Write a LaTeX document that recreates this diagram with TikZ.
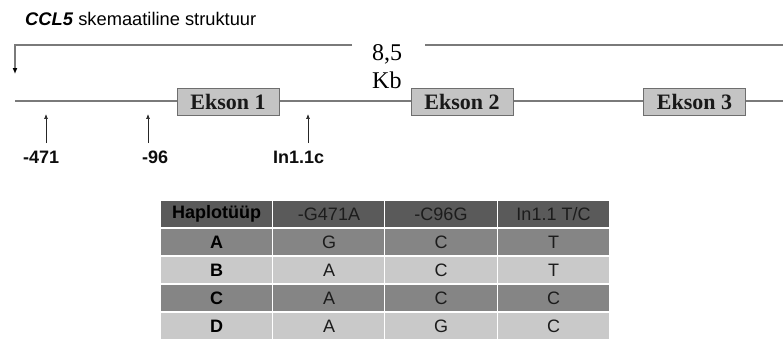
\documentclass[tikz,border=0pt]{standalone}
\usepackage{fontspec}
\setmainfont{Liberation Serif}
\setsansfont{Liberation Sans}
\usetikzlibrary{arrows.meta}
\definecolor{linegray}{HTML}{7A7A7A}
\definecolor{boxfill}{HTML}{C4C4C4}
\definecolor{boxline}{HTML}{6E6E6E}
\definecolor{hdr}{HTML}{5A5A5A}
\definecolor{rowdark}{HTML}{858585}
\definecolor{rowlight}{HTML}{C9C9C9}
\definecolor{celltext}{HTML}{1C1C1C}
\tikzset{
  exon/.style={draw=boxline, fill=boxfill, line width=1pt, minimum width=102bp, minimum height=27bp, inner sep=0pt,
    font=\fontsize{22bp}{24bp}\selectfont\bfseries, text=black!90},
  gene/.style={draw=linegray, line width=1.5pt},
  marker/.style={draw=black!85, line width=0.7pt, -{Latex[length=5pt,width=4pt]}},
  poslabel/.style={font=\sffamily\bfseries\fontsize{18bp}{20bp}\selectfont, text=black!95, anchor=base west, inner sep=0pt},
  cell/.style={draw=white, line width=1.2pt, minimum width=112.5bp, minimum height=28bp, inner sep=0pt,
    font=\sffamily\fontsize{18bp}{20bp}\selectfont, text=celltext},
}
\begin{document}
\begin{tikzpicture}[x=1bp,y=-1bp]
\useasboundingbox (0,0) rectangle (783,338);

% title
\node[anchor=base west, inner sep=0pt, font=\sffamily\fontsize{18.3bp}{20bp}\selectfont] (title) at (25,25)
  {\textbf{\textit{CCL5}} skemaatiline struktuur};

% length bracket
\node[anchor=base west, inner sep=0pt, font=\fontsize{24bp}{26bp}\selectfont] (len1) at (372,60) {8,5};
\node[anchor=base west, inner sep=0pt, font=\fontsize{24bp}{26bp}\selectfont] (len2) at (372,88) {Kb};
\coordinate (bl) at (352,45);
\coordinate (bc) at (15,45);
\coordinate (btip) at (15,74);
\coordinate (br) at (425,45);
\coordinate (bend) at (783,45);
\draw[gene, line width=1.3pt, -{Latex[length=6pt,width=5pt,color=black]}, line join=miter] (bl) -- (bc) -- (btip);
\draw[gene, line width=1.3pt] (br) -- (bend);

% gene
\node[exon] (e1) at (228,101.5) {Ekson 1};
\node[exon] (e2) at (462,101.5) {Ekson 2};
\node[exon] (e3) at (694.5,101.5) {Ekson 3};
\coordinate (gstart) at (15,101);
\coordinate (gend) at (783,101);
\draw[gene] (gstart) -- (e1.west |- gstart);
\draw[gene] (e1.east |- gstart) -- (e2.west |- gstart);
\draw[gene] (e2.east |- gstart) -- (e3.west |- gstart);
\draw[gene] (e3.east |- gstart) -- (gend);

% markers
\node[poslabel] (l471) at (23,163) {-471};
\node[poslabel] (l96) at (142,163) {-96};
\node[poslabel] (lin) at (273,163) {In1.1c};
\coordinate (p471) at (46,114);
\coordinate (p96) at (148,114);
\coordinate (pin) at (308,114);
\draw[marker] (p471 |- 0,143) -- (p471);
\draw[marker] (p96 |- 0,143) -- (p96);
\draw[marker] (pin |- 0,143) -- (pin);

% table
\node[cell, fill=hdr, text=black] (h1) at (216.5,214) {\textbf{Haplotüüp}};
\node[cell, fill=hdr] (h2) at (329,214) {-G471A};
\node[cell, fill=hdr] (h3) at (441,214) {-C96G};
\node[cell, fill=hdr] (h4) at (553.5,214) {In1.1 T/C};

\foreach \r/\y/\c/\a/\b/\d in {A/242/rowdark/G/C/T, B/270/rowlight/A/C/T, C/298/rowdark/A/C/C, D/326/rowlight/A/G/C}{
  \node[cell, fill=\c, text=black] (r\r1) at (216.5,\y) {\textbf{\r}};
  \node[cell, fill=\c] (r\r2) at (329,\y) {\a};
  \node[cell, fill=\c] (r\r3) at (441,\y) {\b};
  \node[cell, fill=\c] (r\r4) at (553.5,\y) {\d};
}
\end{tikzpicture}
\end{document}
